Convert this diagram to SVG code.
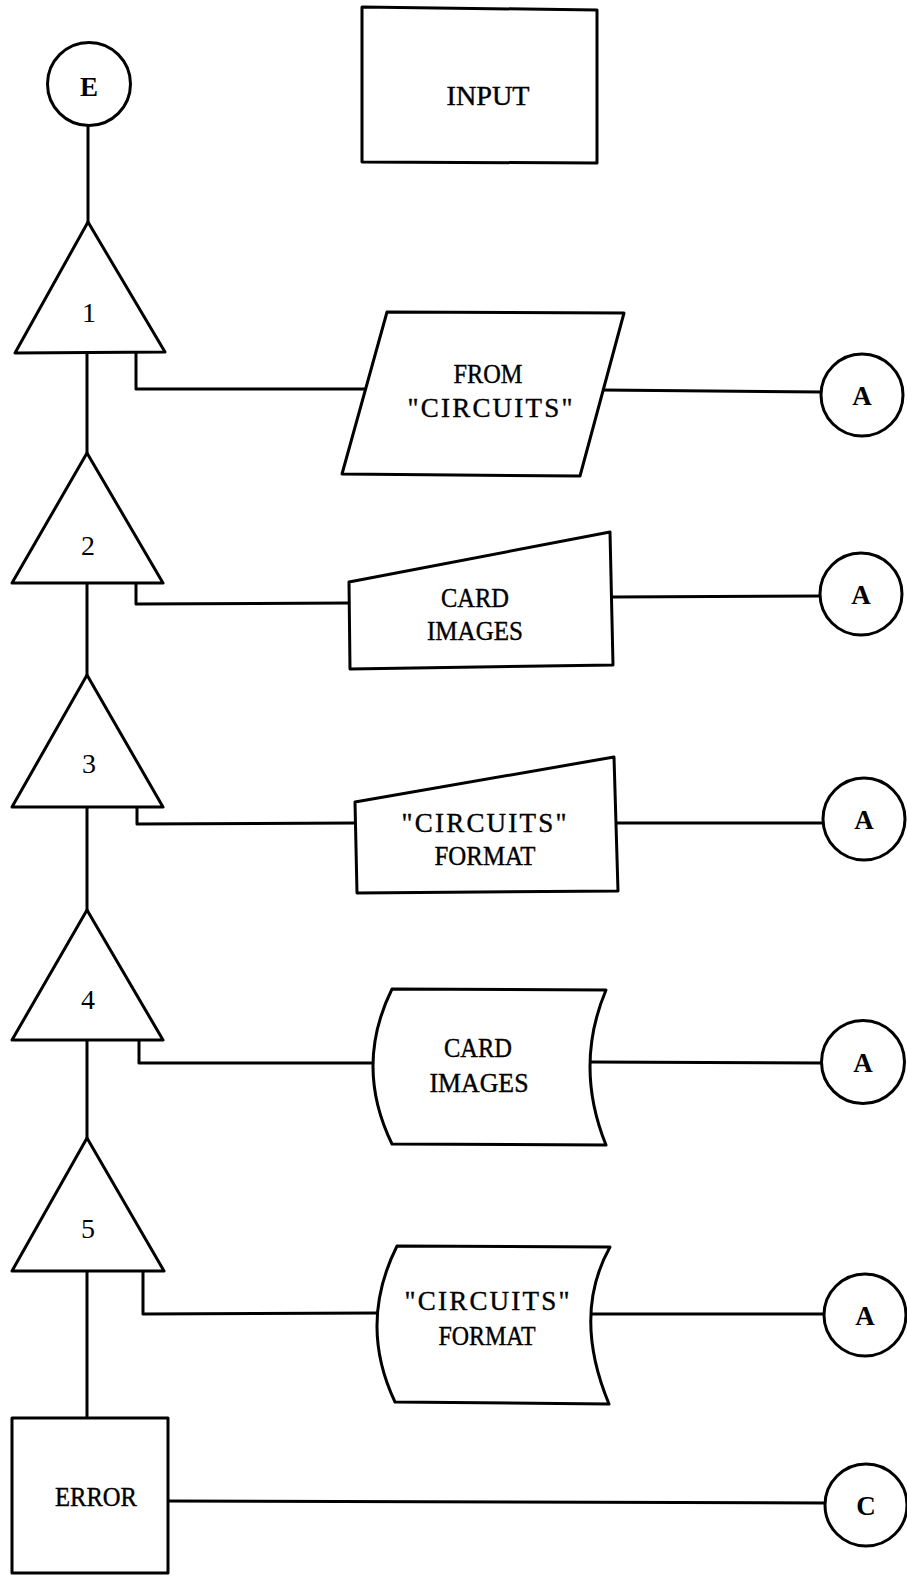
<svg xmlns="http://www.w3.org/2000/svg" width="907" height="1575" viewBox="0 0 907 1575">
<style>
.s{fill:none;stroke:#000;stroke-width:3;stroke-linejoin:round;stroke-linecap:square}
.n{fill:#fff;stroke:#000;stroke-width:3;stroke-linejoin:round}
.t{font-family:"Liberation Serif","Times New Roman",serif;font-size:27px;text-anchor:middle;fill:#000;stroke:#000;stroke-width:0.4}
.d{font-family:"Liberation Serif","Times New Roman",serif;font-size:28px;text-anchor:middle;fill:#000}
.c{font-family:"Liberation Serif","Times New Roman",serif;font-size:27px;font-weight:bold;text-anchor:middle;fill:#000}
</style>
<g id="connectors">
<path class="s" d="M88,126 L88,222"/>
<path class="s" d="M87,352 L87,453"/>
<path class="s" d="M87,583 L87,675"/>
<path class="s" d="M87,806 L87,910"/>
<path class="s" d="M87,1040 L87,1138"/>
<path class="s" d="M87,1271 L87,1418"/>
<path class="s" d="M136,352 L136,389 L366,389"/>
<path class="s" d="M603,390 L821,392"/>
<path class="s" d="M136,583 L136,604 L349,603"/>
<path class="s" d="M613,597 L821,596"/>
<path class="s" d="M137,806 L137,824 L355,823"/>
<path class="s" d="M618,823 L823,823"/>
<path class="s" d="M139,1040 L139,1063 L373,1063"/>
<path class="s" d="M590,1062 L822,1063"/>
<path class="s" d="M143,1271 L143,1314 L377,1313"/>
<path class="s" d="M591,1314 L825,1314"/>
<path class="s" d="M168,1501 L826,1503"/>
</g>
<g id="input">
<path class="n" d="M362,7 L597,10 L597,163 L362,162 Z"/>
<text class="t" x="488" y="105" textLength="83" lengthAdjust="spacingAndGlyphs">INPUT</text>
</g>
<g id="E">
<circle class="n" cx="89" cy="84" r="41.5"/>
<text class="c" x="89" y="96">E</text>
</g>
<g id="tri1">
<path class="n" d="M88,222 L165,352 L15,353 Z"/>
<text class="d" x="89" y="322">1</text>
</g>
<g id="tri2">
<path class="n" d="M87,453 L163,583 L12,583 Z"/>
<text class="d" x="88" y="555">2</text>
</g>
<g id="tri3">
<path class="n" d="M87,675 L163,807 L12,807 Z"/>
<text class="d" x="89" y="773">3</text>
</g>
<g id="tri4">
<path class="n" d="M87,910 L163,1040 L12,1040 Z"/>
<text class="d" x="88" y="1009">4</text>
</g>
<g id="tri5">
<path class="n" d="M87,1138 L164,1271 L12,1271 Z"/>
<text class="d" x="88" y="1238">5</text>
</g>
<g id="error">
<rect class="n" x="12" y="1418" width="156" height="155"/>
<text class="t" x="96" y="1506" textLength="82" lengthAdjust="spacingAndGlyphs">ERROR</text>
</g>
<g id="from-circuits">
<path class="n" d="M387,312 L624,313 L580,476 L342,474 Z"/>
<text class="t" x="488" y="383" textLength="69" lengthAdjust="spacingAndGlyphs">FROM</text>
<text class="t" x="490" y="417" textLength="165" lengthAdjust="spacing">"CIRCUITS"</text>
</g>
<g id="card-images-1">
<path class="n" d="M349,582 L610,532 L613,665 L350,669 Z"/>
<text class="t" x="475" y="607" textLength="68" lengthAdjust="spacingAndGlyphs">CARD</text>
<text class="t" x="475" y="640" textLength="96" lengthAdjust="spacingAndGlyphs">IMAGES</text>
</g>
<g id="circuits-format-1">
<path class="n" d="M355,802 L614,757 L618,891 L357,893 Z"/>
<text class="t" x="484" y="832" textLength="165" lengthAdjust="spacing">"CIRCUITS"</text>
<text class="t" x="485" y="865" textLength="101" lengthAdjust="spacingAndGlyphs">FORMAT</text>
</g>
<g id="card-images-2">
<path class="n" d="M392,989 L606,990 Q574,1066 606,1145 L392,1144 Q354,1066 392,989 Z"/>
<text class="t" x="478" y="1057" textLength="68" lengthAdjust="spacingAndGlyphs">CARD</text>
<text class="t" x="479" y="1092" textLength="99" lengthAdjust="spacingAndGlyphs">IMAGES</text>
</g>
<g id="circuits-format-2">
<path class="n" d="M397,1246 L610,1247 Q572,1315 609,1404 L395,1402 Q358,1324 397,1246 Z"/>
<text class="t" x="487" y="1310" textLength="165" lengthAdjust="spacing">"CIRCUITS"</text>
<text class="t" x="487" y="1345" textLength="97" lengthAdjust="spacingAndGlyphs">FORMAT</text>
</g>
<g id="A1">
<circle class="n" cx="862" cy="395" r="41"/>
<text class="c" x="862" y="405">A</text>
</g>
<g id="A2">
<circle class="n" cx="861" cy="594" r="41"/>
<text class="c" x="861" y="604">A</text>
</g>
<g id="A3">
<circle class="n" cx="864" cy="819" r="41"/>
<text class="c" x="864" y="829">A</text>
</g>
<g id="A4">
<circle class="n" cx="863" cy="1062" r="41.5"/>
<text class="c" x="863" y="1072">A</text>
</g>
<g id="A5">
<circle class="n" cx="865" cy="1315" r="41"/>
<text class="c" x="865" y="1325">A</text>
</g>
<g id="C">
<circle class="n" cx="866" cy="1505" r="41"/>
<text class="c" x="866" y="1515">C</text>
</g>
</svg>
